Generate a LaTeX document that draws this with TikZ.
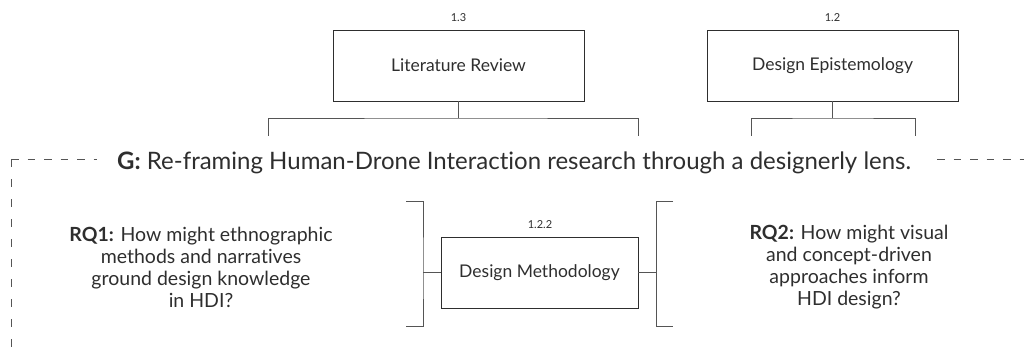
\documentclass[tikz,border=0pt]{standalone}
\usepackage{fontspec}
\setmainfont{Lato}[Ligatures=NoCommon]
\definecolor{ink}{HTML}{2E2E2E}
\definecolor{rule}{HTML}{555555}
\begin{document}
\begin{tikzpicture}[x=1pt,y=-1pt,
  every node/.style={text=ink, inner sep=0pt},
  box/.style={draw=ink, line width=0.9pt, minimum height=71pt, font=\fontsize{17.5}{20}\selectfont},
  num/.style={font=\fontsize{11}{13}\selectfont},
  bracket/.style={draw=rule, line width=0.9pt},
  frame/.style={draw=rule, line width=0.8pt, dash pattern=on 7.5pt off 9pt},
  vframe/.style={draw=rule, line width=0.8pt, dash pattern=on 8pt off 12pt},
  rq/.style={align=center, font=\fontsize{19.5}{22}\selectfont}]
\useasboundingbox (0,0) rectangle (1024,358);

% top-level topics
\node[box, minimum width=251pt] (lit) at (458.5,65.5) {Literature Review};
\node[num] (litn) at (458.5,18) {1.3};
\node[box, minimum width=251pt] (epi) at (832.5,65.5) {Design Epistemology};
\node[num] (epin) at (832.5,18) {1.2};

% brackets hanging below the topics
\coordinate (litJ) at (458.5,118);
\coordinate (litL) at (268,136);
\coordinate (litR) at (638,136);
\draw[bracket] (lit.south) -- (litJ);
\draw[bracket] (litL) |- (litJ) -| (litR);
\coordinate (epiJ) at (832.5,118);
\coordinate (epiL) at (751,136);
\coordinate (epiR) at (915,136);
\draw[bracket] (epi.south) -- (epiJ);
\draw[bracket] (epiL) |- (epiJ) -| (epiR);

% goal line with dashed frame
\coordinate (frB) at (11,358);
\coordinate (frC) at (11,159);
\coordinate (frE) at (97,159);
\coordinate (frR1) at (937,159);
\coordinate (frR2) at (1024,159);
\draw[frame] (frC) -- (frE);
\draw[vframe] (frC) -- (frB);
\draw[frame] (frR1) -- (frR2);
\node[anchor=base west, font=\fontsize{24}{28}\selectfont] (goal) at (117,169)
  {\textbf{G:} Re-framing Human-Drone Interaction research through a designerly lens.};

% research questions
\node[rq] (rq1) at (201,267)
  {\textbf{RQ1:} How might ethnographic\\methods and narratives\\ground design knowledge\\in HDI?};
\node[rq] (rq2) at (849,267)
  {\textbf{RQ2:} How might visual\\and concept-driven\\approaches inform\\HDI design?};

% methodology with side brackets
\node[box, minimum width=197pt] (meth) at (539.5,272.5) {Design Methodology};
\node[num] (methn) at (540,225) {1.2.2};
\coordinate (lbT) at (406,201);
\coordinate (lbB) at (406,326);
\coordinate (lbJ) at (423,272.5);
\draw[bracket] (lbT) -| (lbJ) |- (lbB);
\draw[bracket] (lbJ) -- (meth.west);
\coordinate (rbT) at (673,201);
\coordinate (rbB) at (673,326);
\coordinate (rbJ) at (656,272.5);
\draw[bracket] (rbT) -| (rbJ) |- (rbB);
\draw[bracket] (meth.east) -- (rbJ);
\end{tikzpicture}
\end{document}
